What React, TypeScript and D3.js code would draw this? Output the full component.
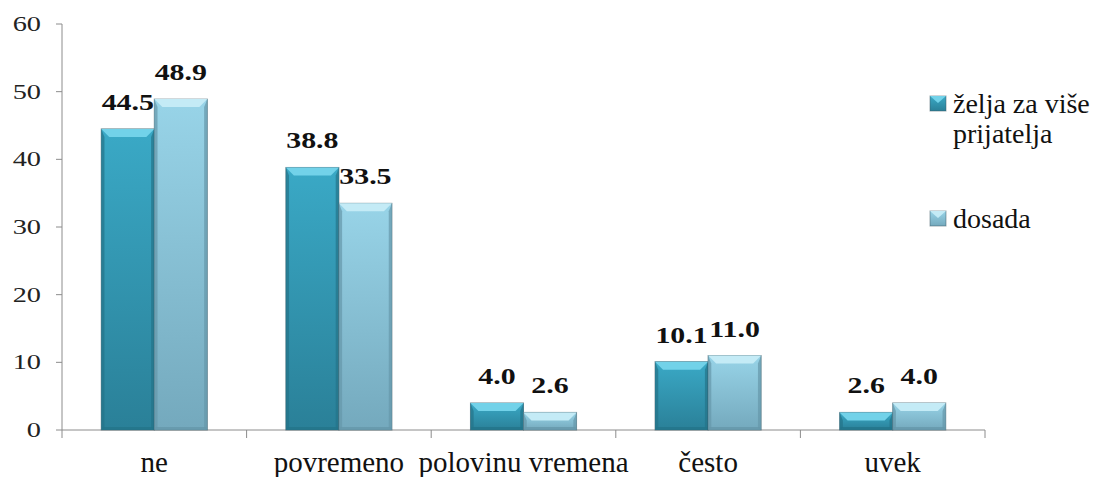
import { useEffect, useRef } from 'react';
import * as d3 from 'd3';

const categories = ['ne', 'povremeno', 'polovinu vremena', 'često', 'uvek'];
const seriesNames = ['želja za više prijatelja', 'dosada'];
const zeljaValues = [44.5, 38.8, 4.0, 10.1, 2.6];
const dosadaValues = [48.9, 33.5, 2.6, 11.0, 4.0];
const yTicks = [0, 10, 20, 30, 40, 50, 60];

const W = 1111;
const H = 477;
const SERIF = "'Liberation Serif', 'Times New Roman', Times, serif";

const palette = [
  { top: '#3aa9c6', bottom: '#2a8098', bevel: '#72d2e9', side: '#237489' },
  { top: '#98d4e8', bottom: '#74a9bd', bevel: '#c4ebf6', side: '#6597aa' },
];

export default function App() {
  const svgRef = useRef<SVGSVGElement>(null);

  useEffect(() => {
    if (!svgRef.current) return;
    const svg = d3.select(svgRef.current);
    svg.selectAll('*').remove();

    const left = 62, right = 985, top = 24, bottom = 430;

    const x = d3.scaleBand<string>().domain(categories).range([left, right]).padding(0);
    const x1 = d3.scaleBand<number>().domain([0, 1]).range([0, x.bandwidth()])
      .paddingInner(0).paddingOuter(0.74);
    const y = d3.scaleLinear().domain([0, 60]).range([bottom, top]);

    // gradients
    const defs = svg.append('defs');
    palette.forEach((p, i) => {
      const g = defs.append('linearGradient')
        .attr('id', `body${i}`).attr('x1', 0).attr('y1', 0).attr('x2', 0).attr('y2', 1);
      g.append('stop').attr('offset', '0%').attr('stop-color', p.top);
      g.append('stop').attr('offset', '100%').attr('stop-color', p.bottom);
    });

    // y axis
    svg.append('line')
      .attr('x1', left).attr('x2', left).attr('y1', y(60)).attr('y2', bottom)
      .attr('stroke', '#8c8c8c').attr('stroke-width', 1);
    svg.selectAll('.ytick')
      .data(yTicks)
      .enter()
      .append('line')
      .attr('x1', left - 6).attr('x2', left)
      .attr('y1', d => y(d)).attr('y2', d => y(d))
      .attr('stroke', '#8c8c8c');
    svg.selectAll('.ylab')
      .data(yTicks)
      .enter()
      .append('text')
      .attr('transform', d => `translate(41,${y(d) + 7}) scale(1.35,1)`)
      .attr('text-anchor', 'end')
      .attr('font-family', SERIF)
      .attr('font-size', 21)
      .attr('fill', '#222')
      .text(d => d);

    // x axis
    svg.append('line')
      .attr('x1', left).attr('x2', right).attr('y1', bottom).attr('y2', bottom)
      .attr('stroke', '#8c8c8c');
    const bounds = categories.map(c => x(c)!).concat([right]);
    svg.selectAll('.xtick')
      .data(bounds)
      .enter()
      .append('line')
      .attr('x1', d => d).attr('x2', d => d)
      .attr('y1', bottom).attr('y2', bottom + 8)
      .attr('stroke', '#8c8c8c');
    svg.selectAll('.xlab')
      .data(categories)
      .enter()
      .append('text')
      .attr('x', d => x(d)! + x.bandwidth() / 2)
      .attr('y', 472)
      .attr('text-anchor', 'middle')
      .attr('font-family', SERIF)
      .attr('font-size', 29)
      .attr('fill', '#111')
      .text(d => d);

    // bars
    const series = [zeljaValues, dosadaValues];
    const bw = x1.bandwidth();
    const bev = 8;
    series.forEach((vals, si) => {
      const p = palette[si];
      const g = svg.append('g');
      const bars = g.selectAll('.bar')
        .data(vals.map((v, i) => ({ v, c: categories[i] })))
        .enter()
        .append('g')
        .attr('transform', d => `translate(${x(d.c)! + x1(si)!},0)`);

      bars.append('rect')
        .attr('x', 0).attr('y', d => y(d.v))
        .attr('width', bw).attr('height', d => bottom - y(d.v))
        .attr('fill', `url(#body${si})`)
        .attr('stroke', '#3c5a66').attr('stroke-opacity', 0.6);
      // side bevels
      bars.append('path')
        .attr('d', d => {
          const t = y(d.v), b = bottom;
          const e = Math.min(bev, (b - t) / 2);
          return `M0,${t} L${e * 0.4},${t + e} L${e * 0.4},${b - 2} L0,${b} Z`;
        })
        .attr('fill', p.side).attr('opacity', 0.7);
      bars.append('path')
        .attr('d', d => {
          const t = y(d.v), b = bottom;
          const e = Math.min(bev, (b - t) / 2);
          return `M${bw},${t} L${bw - e * 0.4},${t + e} L${bw - e * 0.4},${b - 2} L${bw},${b} Z`;
        })
        .attr('fill', p.side).attr('opacity', 0.7);
      // top bevel
      bars.append('path')
        .attr('d', d => {
          const t = y(d.v), b = bottom;
          const e = Math.min(bev, (b - t) / 2);
          return `M0,${t} L${bw},${t} L${bw - e},${t + e} L${e},${t + e} Z`;
        })
        .attr('fill', p.bevel);
      // bottom darker band
      bars.append('rect')
        .attr('x', 1).attr('width', bw - 2)
        .attr('y', bottom - 3).attr('height', 3)
        .attr('fill', p.side).attr('opacity', 0.8);

      // labels
      bars.append('text')
        .attr('transform', d => `translate(${bw / 2},${y(d.v) - 19}) scale(1.3,1)`)
        .attr('text-anchor', 'middle')
        .attr('font-family', SERIF)
        .attr('font-weight', 'bold')
        .attr('font-size', 23)
        .attr('fill', '#111')
        .text(d => d.v.toFixed(1));
    });

    // legend
    const legend = svg.append('g');
    const legendItems = [
      { lines: ['želja za više', 'prijatelja'], y: 96 },
      { lines: ['dosada'], y: 211 },
    ];
    legendItems.forEach((item, i) => {
      const p = palette[i];
      legend.append('rect')
        .attr('x', 930).attr('y', item.y).attr('width', 16).attr('height', 15)
        .attr('fill', `url(#body${i})`)
        .attr('stroke', '#3c5a66').attr('stroke-opacity', 0.5);
      legend.append('path')
        .attr('d', `M930,${item.y} L946,${item.y} L938,${item.y + 7} Z`)
        .attr('fill', p.bevel);
      const t = legend.append('text')
        .attr('font-family', SERIF)
        .attr('font-size', 28)
        .attr('fill', '#111');
      item.lines.forEach((ln, j) => {
        t.append('tspan').attr('x', 953).attr('y', item.y + 17 + j * 30).text(ln);
      });
    });
    legend.attr('aria-label', seriesNames.join(', '));
  }, []);

  return (
    <svg
      ref={svgRef}
      width={W}
      height={H}
      style={{ position: 'absolute', left: 0, top: 0, background: '#fff' }}
    />
  );
}
